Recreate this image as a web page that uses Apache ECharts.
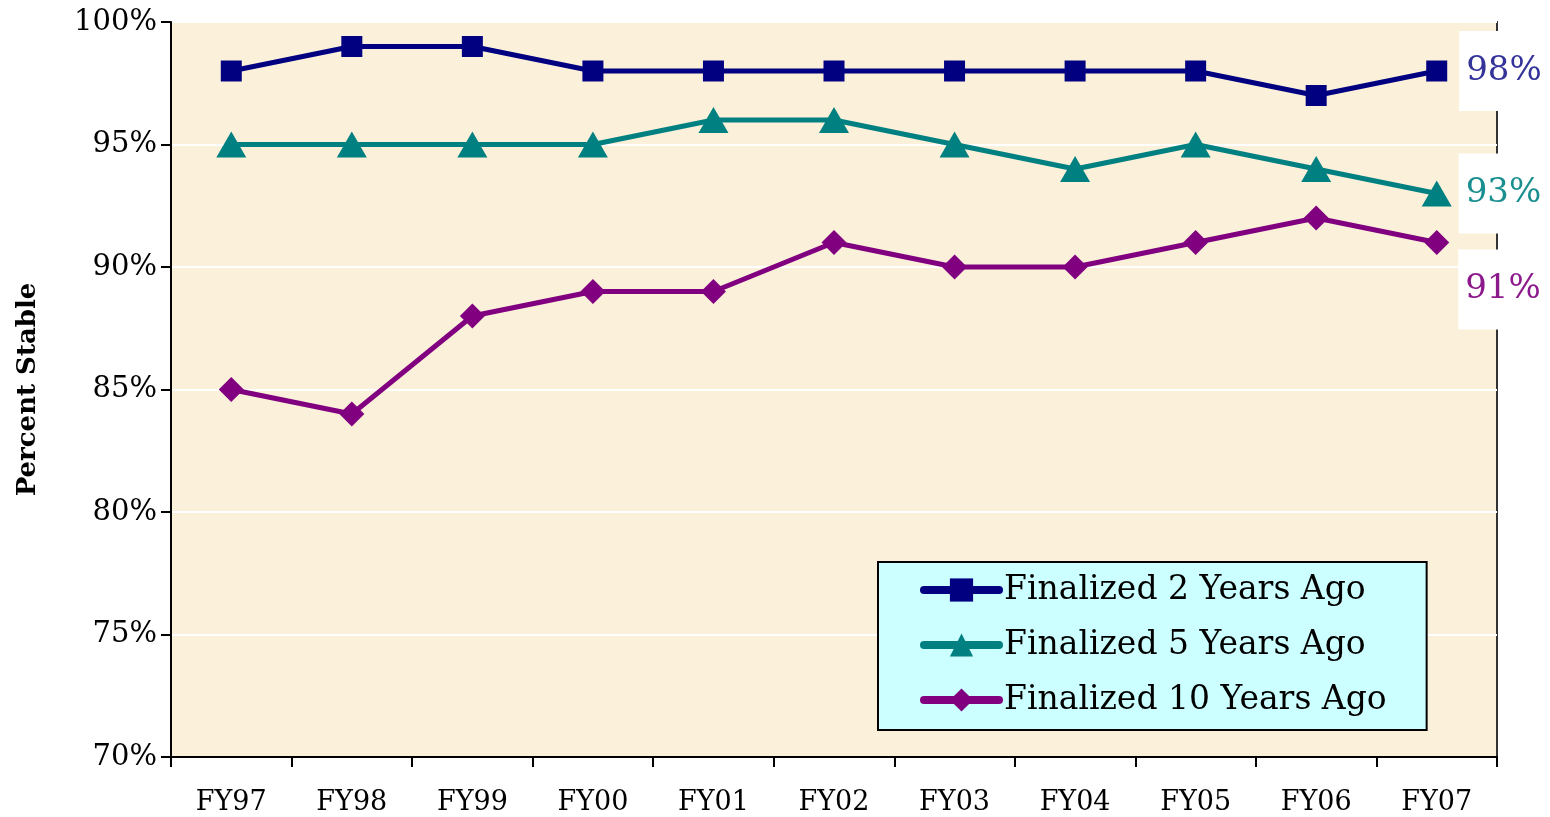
<!DOCTYPE html>
<html>
<head>
<meta charset="utf-8">
<script src="https://cdn.jsdelivr.net/npm/echarts@6/dist/echarts.min.js"></script>
<style>html,body{margin:0;padding:0;background:#fff}#c{width:1550px;height:817px}</style>
</head>
<body>
<div id="c"></div>
<script>
const categories = ['FY97','FY98','FY99','FY00','FY01','FY02','FY03','FY04','FY05','FY06','FY07'];
const seriesNames = ['Finalized 2 Years Ago','Finalized 5 Years Ago','Finalized 10 Years Ago'];
const twoYears = [98, 99, 99, 98, 98, 98, 98, 98, 98, 97, 98];
const fiveYears = [95, 95, 95, 95, 96, 96, 95, 94, 95, 94, 93];
const tenYears = [85, 84, 88, 89, 89, 91, 90, 90, 91, 92, 91];
const yTicks = [70, 75, 80, 85, 90, 95, 100];

const font = "'DejaVu Serif', 'Liberation Serif', serif";

function withEndLabel(arr, color, distance, offsetY) {
  return arr.map((v, i) => {
    if (i !== arr.length - 1) return v;
    return {
      value: v,
      label: {
        show: true, position: 'right', distance: distance, offset: [0, offsetY],
        formatter: '{c}%', color: color, fontFamily: font, fontSize: 34,
        backgroundColor: '#ffffff', padding: [24, 12, 22, 7]
      }
    };
  });
}

const chart = echarts.init(document.getElementById('c'));
chart.setOption({
  animation: false,
  backgroundColor: '#ffffff',
  grid: {
    left: 171, right: 53, top: 22, bottom: 60,
    show: true, backgroundColor: '#fbf0d9', borderColor: '#333', borderWidth: 2
  },
  legend: {
    orient: 'vertical', left: 878, top: 562,
    backgroundColor: '#ccffff', borderColor: '#000', borderWidth: 2,
    padding: [10, 40, 12, 42], itemGap: 19, itemWidth: 75, itemHeight: 29,
    lineStyle: { width: 8, cap: 'round' },
    textStyle: { fontFamily: font, fontSize: 33, color: '#000', lineHeight: 36 },
    data: seriesNames
  },
  xAxis: {
    type: 'category', data: categories, boundaryGap: true,
    axisLine: { lineStyle: { color: '#000', width: 2 } },
    axisTick: { show: true, length: 10, lineStyle: { color: '#000', width: 2 } },
    axisLabel: { fontFamily: font, fontSize: 27, color: '#000', margin: 32 },
    splitLine: { show: false }
  },
  yAxis: {
    type: 'value', min: 70, max: 100, interval: 5,
    name: 'Percent Stable', nameLocation: 'middle', nameRotate: 90, nameGap: 130,
    nameTextStyle: { fontFamily: font, fontSize: 26, fontWeight: 'bold', color: '#000' },
    axisLine: { show: true, lineStyle: { color: '#000', width: 2 } },
    axisTick: { show: true, length: 10, lineStyle: { color: '#000', width: 2 } },
    axisLabel: { fontFamily: font, fontSize: 29, color: '#000', margin: 14,
      formatter: v => yTicks.includes(v) ? v + '%' : '' },
    splitLine: { show: true, lineStyle: { color: '#ffffff', width: 2 } }
  },
  series: [
    {
      name: seriesNames[0], type: 'line', data: withEndLabel(twoYears, '#333399', 12, 0),
      symbol: 'rect', symbolSize: 21, showAllSymbol: true,
      lineStyle: { color: '#000080', width: 5 }, itemStyle: { color: '#000080' }, z: 4
    },
    {
      name: seriesNames[1], type: 'line', data: withEndLabel(fiveYears, '#1a8f8f', 7, 0),
      symbol: 'triangle', symbolSize: [30, 26], showAllSymbol: true,
      lineStyle: { color: '#008080', width: 5 }, itemStyle: { color: '#008080' }, z: 3
    },
    {
      name: seriesNames[2], type: 'line', data: withEndLabel(tenYears, '#8c1a8c', 9, 47),
      symbol: 'diamond', symbolSize: 25, showAllSymbol: true,
      lineStyle: { color: '#800080', width: 5 }, itemStyle: { color: '#800080' }, z: 2
    }
  ]
});
</script>
</body>
</html>
